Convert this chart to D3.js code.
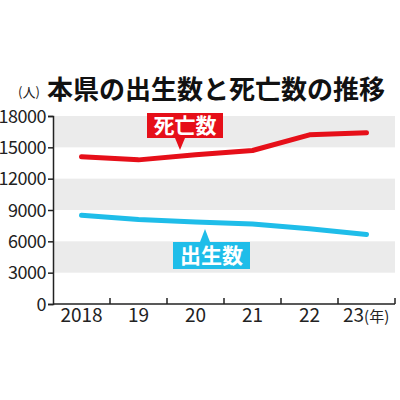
<!DOCTYPE html>
<html><head><meta charset="utf-8">
<script src="https://cdn.jsdelivr.net/npm/d3@7"></script>
<style>body{margin:0;background:#fff}svg{display:block}</style>
</head><body>
<script>
const years = ["2018","19","20","21","22","23"];
const deaths = [14100, 13800, 14300, 14700, 16200, 16400];
const births = [8500, 8100, 7850, 7650, 7200, 6650];
const yTicks = [0,3000,6000,9000,12000,15000,18000];
const bands = [[15000,18000],[9000,12000],[3000,6000]];
const title = "本県の出生数と死亡数の推移";

const W=400,H=400;
const svg=d3.select("body").append("svg").attr("width",W).attr("height",H);
const font="'Noto Sans CJK JP','Noto Sans',sans-serif";
const L=53,R=395,T=116,B=304;
const x=d3.scaleBand().domain(years).range([L,R]).padding(0);
const y=d3.scaleLinear().domain([0,18000]).range([B,T]);
const red="#e60f19", blue="#1fbde9";

svg.selectAll("rect.band").data(bands).join("rect")
  .attr("x",L).attr("width",R-L).attr("y",d=>y(d[1])).attr("height",d=>y(d[0])-y(d[1]))
  .attr("fill","#ebebeb");

svg.append("text").attr("x",47).attr("y",99).attr("font-family",font).attr("font-weight",700)
  .attr("font-size",26).attr("fill","#111").text(title);
svg.append("text").attr("x",29).attr("y",97).attr("text-anchor","middle").attr("font-family",font)
  .attr("font-size",13).attr("fill","#222").text("(人)");

// y axis
const ya=svg.append("g").attr("transform",`translate(${L},0)`)
  .call(d3.axisLeft(y).tickValues(yTicks).tickSize(5).tickFormat(d3.format("d")));
ya.select(".domain").attr("stroke","#222").attr("stroke-width",1.5);
ya.selectAll(".tick line").attr("stroke","#222").attr("stroke-width",1.5);
ya.selectAll("text").attr("font-family",font).attr("font-size",18).attr("fill","#222")
  .attr("x",-7).attr("dy","0.35em").style("letter-spacing","-0.5px");

// x axis
const xa=svg.append("g").attr("transform",`translate(0,${B})`);
xa.append("line").attr("x1",L).attr("x2",R).attr("stroke","#222").attr("stroke-width",1.5);
xa.selectAll("line.t").data(years.slice(1).concat(["end"])).join("line")
  .attr("x1",d=>d==="end"?R:x(d)).attr("x2",d=>d==="end"?R:x(d)).attr("y1",0).attr("y2",-6)
  .attr("stroke","#222").attr("stroke-width",1.5);
xa.selectAll("text.l").data(years).join("text")
  .attr("x",(d,i)=>i===years.length-1?343:x(d)+x.bandwidth()/2)
  .attr("text-anchor",(d,i)=>i===years.length-1?"start":"middle")
  .attr("y",18).attr("font-family",font).attr("font-size",19).attr("fill","#222")
  .each(function(d,i){
    const t=d3.select(this);
    t.append("tspan").text(d);
    if(i===years.length-1) t.append("tspan").attr("font-size",15).text("(年)");
  });

const cx=d=>x(d)+x.bandwidth()/2;
const line=d3.line().x((d,i)=>cx(years[i])).y(d=>y(d));
svg.append("path").attr("d",line(deaths)).attr("fill","none").attr("stroke",red)
  .attr("stroke-width",5).attr("stroke-linecap","round").attr("stroke-linejoin","round");
svg.append("path").attr("d",line(births)).attr("fill","none").attr("stroke",blue)
  .attr("stroke-width",5).attr("stroke-linecap","round").attr("stroke-linejoin","round");

// labels
function label(tx,ty,w,h,color,text,px,tip){
  const g=svg.append("g");
  const dir = tip>ty ? 1 : -1;
  const base = dir>0 ? ty+h : ty;
  g.append("path").attr("d",`M${px-5},${base}L${px},${tip}L${px+5},${base}Z`).attr("fill",color);
  g.append("rect").attr("x",tx).attr("y",ty).attr("width",w).attr("height",h).attr("fill",color);
  g.append("text").attr("x",tx+w/2).attr("y",ty+h/2).attr("dy","0.36em").attr("text-anchor","middle")
    .attr("font-family",font).attr("font-weight",700).attr("font-size",21).attr("fill","#fff").text(text);
}
label(147,113,76,25,red,"死亡数",180,150);
label(173,242,77,27,blue,"出生数",205,229);
</script>
</body></html>
